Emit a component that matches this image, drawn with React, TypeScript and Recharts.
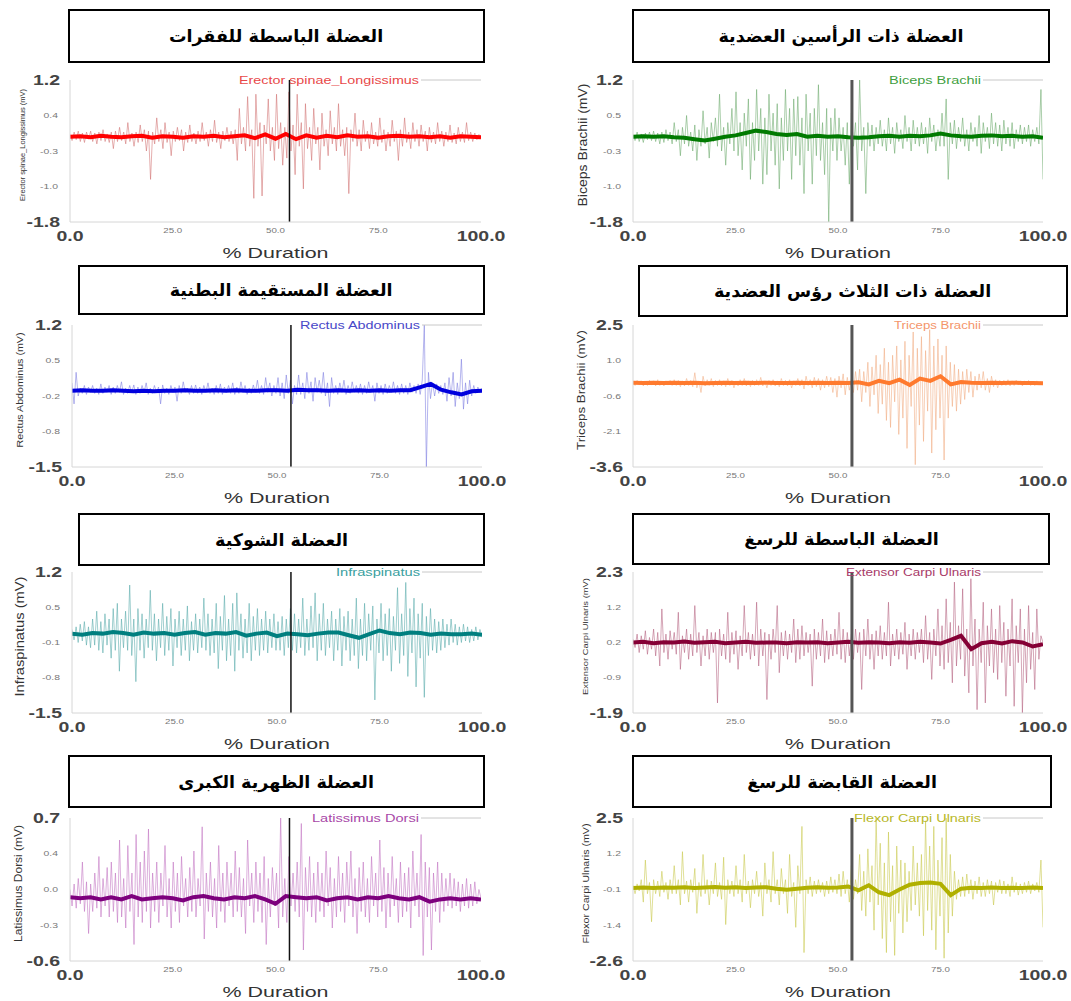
import React from 'react';
import { LineChart, Line, XAxis, YAxis, ReferenceLine, Legend } from 'recharts';

const FONT = "'Liberation Sans', Arial, sans-serif";
const AR_FONT = "'DejaVu Sans', sans-serif";

const xTicks = [0, 25, 50, 75, 100];
const xTickLabels = ['0.0', '25.0', '50.0', '75.0', '100.0'];
const markerX = 53.4;

const titles = [
  'العضلة الباسطة للفقرات',
  'العضلة ذات الرأسين العضدية',
  'العضلة المستقيمة البطنية',
  'العضلة ذات الثلاث رؤس العضدية',
  'العضلة الشوكية',
  'العضلة الباسطة للرسغ',
  'العضلة الظهرية الكبرى',
  'العضلة القابضة للرسغ',
];

const seriesNames = [
  'Erector spinae_Longissimus',
  'Biceps Brachii',
  'Rectus Abdominus',
  'Triceps Brachii',
  'Infraspinatus',
  'Extensor Carpi Ulnaris',
  'Latissimus Dorsi',
  'Flexor Carpi Ulnaris',
];

const yAxisLabels = [
  'Erector spinae_Longissimus (mV)',
  'Biceps Brachii (mV)',
  'Rectus Abdominus (mV)',
  'Triceps Brachii (mV)',
  'Infraspinatus (mV)',
  'Extensor Carpi Ulnaris (mV)',
  'Latissimus Dorsi (mV)',
  'Flexor Carpi Ulnaris (mV)',
];

const yTicks = [
  [-1.8, -1.05, -0.3, 0.45, 1.2],
  [-1.8, -1.05, -0.3, 0.45, 1.2],
  [-1.5, -0.825, -0.15, 0.525, 1.2],
  [-3.6, -2.075, -0.55, 0.975, 2.5],
  [-1.5, -0.825, -0.15, 0.525, 1.2],
  [-1.9, -0.85, 0.2, 1.25, 2.3],
  [-0.6, -0.275, 0.05, 0.375, 0.7],
  [-2.6, -1.325, -0.05, 1.225, 2.5],
];

const yTickLabels = [
  ['-1.8', '-1.0', '-0.3', '0.4', '1.2'],
  ['-1.8', '-1.0', '-0.3', '0.5', '1.2'],
  ['-1.5', '-0.8', '-0.2', '0.5', '1.2'],
  ['-3.6', '-2.1', '-0.6', '1.0', '2.5'],
  ['-1.5', '-0.8', '-0.1', '0.5', '1.2'],
  ['-1.9', '-0.9', '0.2', '1.2', '2.3'],
  ['-0.6', '-0.3', '0.0', '0.4', '0.7'],
  ['-2.6', '-1.4', '-0.1', '1.2', '2.5'],
];

const rawColors = ['#d07070', '#6aa86a', '#7c7ce0', '#f0aa80', '#55a8a8', '#b4607e', '#c070c0', '#c8c848'];
const smoothColors = ['#ff0000', '#007a00', '#0000dd', '#ff7a2e', '#007f7f', '#850035', '#7d007d', '#b0b000'];
const legendColors = ['#e84848', '#3fa03f', '#4848c8', '#f4956a', '#3aa0a0', '#a83a68', '#a848a8', '#b8b828'];

// raw EMG traces (200 samples evenly spaced over 0..100 % duration)
const erectorRaw = [
  0.05, -0.08, 0.1, -0.06, 0.12, -0.1, 0.08, -0.12, 0.1, -0.05,
  0.12, -0.1, 0.08, -0.15, 0.1, -0.08, 0.15, -0.1, 0.06, -0.12,
  0.1, -0.25, 0.12, -0.1, 0.2, -0.08, 0.1, -0.15, 0.3, -0.1,
  0.08, -0.2, 0.1, -0.12, 0.25, -0.1, 0.15, -0.3, 0.12, -0.9,
  0.1, -0.15, 0.4, -0.1, 0.15, -0.25, 0.3, -0.12, 0.1, -0.4,
  0.12, -0.1, 0.2, -0.08, 0.15, -0.3, 0.1, -0.12, 0.25, -0.1,
  0.08, -0.15, 0.12, -0.1, 0.3, -0.08, 0.1, -0.2, 0.15, -0.1,
  0.35, -0.12, 0.1, -0.25, 0.12, -0.08, 0.2, -0.1, 0.12, -0.15,
  0.15, -0.5, 0.6, -0.15, 0.2, -0.3, 0.85, -0.2, 0.15, -1.3,
  0.9, -0.2, 0.3, -1.25, 0.25, -0.15, 0.8, -0.3, 0.2, -0.5,
  0.9, -0.25, 0.3, -0.6, 0.2, -0.45, 0.95, -0.3, 0.25, -0.8,
  0.9, -0.2, 0.3, -1.1, 0.7, -0.25, 0.2, -0.5, 0.6, -0.15,
  0.2, -0.7, 0.5, -0.2, 0.15, -0.4, 0.55, -0.15, 0.2, -0.3,
  0.7, -0.2, 0.15, -0.4, 0.2, -1.2, 0.15, -0.1, 0.5, -0.2,
  0.15, -0.3, 0.35, -0.1, 0.12, -0.25, 0.3, -0.15, 0.1, -0.2,
  0.4, -0.12, 0.15, -0.3, 0.1, -0.2, 0.35, -0.1, 0.12, -0.5,
  0.15, -0.2, 0.4, -0.12, 0.1, -0.25, 0.3, -0.1, 0.15, -0.2,
  0.25, -0.1, 0.12, -0.3, 0.2, -0.12, 0.1, -0.15, 0.3, -0.1,
  0.12, -0.2, 0.1, -0.1, 0.25, -0.12, 0.08, -0.15, 0.2, -0.1,
  0.1, -0.12, 0.3, -0.08, 0.1, -0.1, 0.08, -0.06, 0.05, 0.0,
];
const bicepsRaw = [
  0.05, -0.08, 0.1, -0.1, 0.06, -0.12, 0.08, -0.06, 0.1, -0.08,
  0.12, -0.1, 0.08, -0.15, 0.1, -0.12, 0.15, -0.08, 0.1, -0.15,
  0.3, -0.1, 0.15, -0.4, 0.2, -0.15, 0.45, -0.2, 0.1, -0.3,
  0.25, -0.5, 0.15, -0.2, 0.55, -0.15, 0.2, -0.45, 0.3, -0.1,
  0.4, -0.2, 0.9, -0.3, 0.2, -0.6, 0.3, -0.15, 0.6, -0.3,
  0.95, -0.4, 0.3, -0.7, 0.5, -0.2, 0.8, -0.9, 0.3, -0.5,
  1.0, -0.3, 0.6, -1.0, 0.4, -0.8, 0.9, -0.3, 0.5, -0.6,
  0.7, -1.1, 0.4, -0.5, 1.0, -0.3, 0.6, -0.9, 0.8, -0.4,
  0.85, -0.6, 0.4, -1.2, 0.9, -0.3, 0.5, -1.0, 0.6, -0.4,
  1.1, -0.5, 0.3, -0.8, 0.6, -1.8, 0.4, -0.3, 0.6, -0.5,
  0.4, -0.3, 0.2, -0.6, 0.3, -1.0, 0.5, -0.2, 0.3, -0.7,
  1.2, -0.3, 0.2, -1.2, 0.3, -0.2, 0.25, -0.3, 0.2, -0.15,
  0.35, -0.2, 0.15, -0.3, 0.4, -0.15, 0.2, -0.35, 0.3, -0.1,
  0.15, -0.25, 0.45, -0.1, 0.2, -0.3, 0.35, -0.15, 0.2, -0.2,
  0.3, -0.15, 0.2, -0.35, 0.4, -0.1, 0.25, -0.3, 0.15, -0.2,
  0.5, -0.2, 0.8, -0.9, 0.3, -0.15, 0.35, -0.25, 0.2, -0.1,
  0.4, -0.2, 0.15, -0.3, 0.3, -0.1, 0.2, -0.2, 0.45, -0.35,
  0.3, -0.1, 0.2, -0.25, 0.5, -0.15, 0.3, -0.2, 0.25, -0.3,
  0.35, -0.15, 0.2, -0.2, 0.3, -0.25, 0.15, -0.1, 0.25, -0.15,
  0.2, -0.1, 0.25, -0.2, 0.15, -0.1, 0.2, -0.15, 1.0, -0.9,
];
const rectusRaw = [
  0.1, -0.3, 0.3, -0.15, 0.0, -0.1, 0.05, -0.12, 0.02, -0.08,
  0.05, -0.1, 0.0, -0.12, 0.08, -0.1, 0.02, -0.08, 0.05, -0.12,
  0.02, -0.1, 0.05, -0.08, 0.12, -0.12, 0.0, -0.1, 0.05, -0.08,
  0.06, -0.12, 0.02, -0.1, 0.05, -0.08, 0.1, -0.12, 0.0, -0.1,
  0.05, -0.08, 0.02, -0.3, 0.06, -0.1, 0.0, -0.12, 0.05, -0.08,
  0.02, -0.25, 0.05, -0.1, 0.12, -0.08, 0.0, -0.12, 0.05, -0.1,
  0.06, -0.1, 0.02, -0.12, 0.05, -0.08, 0.1, -0.1, 0.0, -0.12,
  0.05, -0.1, 0.08, -0.12, 0.02, -0.08, 0.05, -0.1, 0.1, -0.12,
  0.02, -0.1, 0.12, -0.08, 0.05, -0.12, 0.0, -0.1, 0.06, -0.08,
  0.15, -0.1, 0.05, -0.12, 0.2, -0.08, 0.1, -0.15, 0.05, -0.1,
  0.2, -0.15, 0.1, -0.2, 0.25, -0.1, 0.15, -0.3, 0.05, -0.12,
  0.25, -0.12, 0.1, -0.2, 0.3, -0.1, 0.12, -0.25, 0.2, -0.08,
  0.15, -0.1, 0.3, -0.15, 0.1, -0.35, 0.2, -0.1, 0.05, -0.12,
  0.1, -0.08, 0.15, -0.12, 0.05, -0.1, 0.12, -0.08, 0.05, -0.1,
  0.08, -0.12, 0.05, -0.1, 0.12, -0.08, 0.05, -0.25, 0.1, -0.1,
  0.05, -0.12, 0.08, -0.1, 0.05, -0.08, 0.12, -0.1, 0.05, -0.12,
  0.08, -0.1, 0.05, -0.12, 0.1, -0.08, 0.05, -0.1, 0.08, -0.12,
  0.15, 1.2, -1.5, 0.3, -0.2, 0.1, -0.15, 0.08, -0.1, 0.05,
  -0.12, 0.1, -0.25, 0.2, -0.15, 0.3, -0.35, 0.1, -0.2, 0.55,
  -0.4, 0.1, -0.3, 0.15, -0.15, 0.05, -0.1, 0.02, -0.08, 0.0,
];
const tricepsRaw = [
  0.1, -0.1, 0.12, -0.08, 0.1, -0.12, 0.08, -0.1, 0.12, -0.08,
  0.1, -0.12, 0.15, -0.1, 0.08, -0.12, 0.1, -0.08, 0.12, -0.1,
  0.15, -0.1, 0.12, -0.15, 0.1, -0.12, 0.2, -0.1, 0.12, -0.15,
  0.45, -0.2, 0.1, -0.4, 0.3, -0.12, 0.15, -0.1, 0.2, -0.15,
  0.12, -0.1, 0.15, -0.12, 0.1, -0.15, 0.2, -0.1, 0.12, -0.2,
  0.1, -0.12, 0.15, -0.1, 0.2, -0.12, 0.1, -0.15, 0.12, -0.1,
  0.15, -0.1, 0.25, -0.12, 0.1, -0.2, 0.12, -0.1, 0.15, -0.12,
  0.1, -0.15, 0.2, -0.1, 0.12, -0.12, 0.15, -0.2, 0.1, -0.1,
  0.2, -0.12, 0.15, -0.25, 0.3, -0.1, 0.15, -0.2, 0.25, -0.15,
  0.2, -0.3, 0.15, -0.2, 0.3, -0.15, 0.25, -0.4, 0.2, -0.6,
  0.3, -0.2, 0.4, -0.5, 0.25, -0.3, 0.2, -0.4, 0.5, -0.3,
  0.6, -0.8, 0.5, -0.4, 0.9, -1.0, 0.7, -0.5, 1.2, -1.3,
  0.8, -0.9, 1.5, -1.6, 0.9, -1.9, 1.2, -0.8, 1.6, -2.2,
  1.0, -1.5, 1.8, -2.8, 1.2, -1.0, 2.2, -3.5, 1.5, -1.8,
  2.0, -2.5, 1.4, -1.2, 2.3, -3.0, 1.6, -2.0, 1.9, -1.5,
  1.2, -3.3, 1.6, -1.5, 0.9, -1.0, 0.8, -1.2, 0.6, -0.9,
  0.5, -0.7, 0.6, -0.4, 0.5, -0.6, 0.3, -0.3, 0.4, -0.2,
  0.5, -0.3, 0.2, -0.4, 0.3, -0.15, 0.15, -0.2, 0.12, -0.1,
  0.12, -0.1, 0.15, -0.12, 0.1, -0.1, 0.12, -0.08, 0.1, -0.12,
  0.1, -0.08, 0.12, -0.1, 0.08, -0.1, 0.1, -0.08, 0.06, -0.05,
];
const infraRaw = [
  0.1, -0.1, 0.15, -0.15, 0.2, -0.12, 0.25, -0.2, 0.15, -0.25,
  0.3, -0.2, 0.45, -0.3, 0.25, -0.35, 0.4, -0.2, 0.3, -0.45,
  0.5, -0.3, 0.6, -0.7, 0.3, -0.25, 0.45, -0.3, 0.95, -0.4,
  0.3, -0.9, 0.5, -0.3, 0.4, -0.45, 0.3, -0.25, 0.85, -0.3,
  0.4, -0.5, 0.3, -0.25, 0.6, -0.4, 0.35, -0.3, 0.5, -0.6,
  0.3, -0.25, 0.45, -0.4, 0.3, -0.3, 0.55, -0.5, 0.25, -0.3,
  0.4, -0.35, 0.3, -0.25, 0.7, -0.3, 0.4, -0.4, 0.3, -0.35,
  0.6, -0.65, 0.35, -0.3, 0.75, -0.5, 0.3, -0.4, 0.6, -0.7,
  0.8, -0.3, 0.4, -0.45, 0.3, -0.35, 0.6, -0.5, 0.35, -0.3,
  0.5, -0.4, 0.3, -0.3, 0.45, -0.35, 0.3, -0.25, 0.4, -0.3,
  0.25, -0.3, 0.35, -0.4, 0.3, -0.25, 0.5, -0.3, 0.4, -0.35,
  0.3, -0.25, 0.7, -0.4, 0.3, -0.3, 0.55, -0.25, 0.8, -0.5,
  0.4, -0.3, 0.6, -0.4, 0.3, -0.25, 0.45, -0.5, 0.3, -0.3,
  0.5, -0.6, 0.35, -0.3, 0.45, -0.5, 0.3, -0.4, 0.7, -0.65,
  0.3, -0.4, 0.6, -0.5, 0.4, -0.3, 0.55, -1.25, 0.3, -0.35,
  0.6, -0.5, 0.4, -0.4, 0.5, -0.7, 0.35, -0.3, 0.9, -0.55,
  0.4, -0.4, 1.0, -0.8, 0.5, -0.35, 0.7, -1.0, 0.4, -0.45,
  0.6, -1.2, 0.35, -0.4, 0.5, -0.3, 0.3, -0.35, 0.25, -0.3,
  0.3, -0.25, 0.2, -0.2, 0.3, -0.15, 0.2, -0.2, 0.15, -0.15,
  0.2, -0.12, 0.15, -0.15, 0.1, -0.12, 0.15, -0.1, 0.1, -0.05,
];
const extensorRaw = [
  0.3, 0.05, 0.45, -0.1, 0.4, 0.0, 0.55, -0.15, 0.35, 0.0,
  0.6, -0.2, 0.5, -0.5, 1.2, -0.1, 0.45, -0.3, 0.55, 0.0,
  0.5, -0.15, 1.1, -0.6, 0.4, -0.1, 0.6, -0.3, 0.45, -0.2,
  1.3, -0.1, 0.5, -0.5, 0.4, -0.2, 0.6, -0.3, 0.5, -0.1,
  0.5, -1.6, 0.6, -0.2, 0.45, -0.3, 1.1, -0.4, 0.5, -0.15,
  0.55, -0.6, 0.4, -0.2, 1.3, -0.1, 0.5, -0.3, 0.45, -0.2,
  1.4, -0.5, 0.6, -0.2, 0.5, -1.5, 0.45, -0.3, 0.6, -0.1,
  1.3, -0.7, 0.5, -0.2, 0.55, -0.3, 0.45, -0.1, 0.9, -0.4,
  0.6, -0.3, 0.7, -0.2, 0.5, -0.1, 0.45, -1.1, 0.6, -0.3,
  0.5, -0.2, 0.9, -0.4, 0.55, -0.3, 0.45, -0.2, 0.6, -0.15,
  1.1, -0.3, 0.6, -0.4, 0.5, -0.2, 0.45, -0.3, 0.6, -0.1,
  0.5, -1.2, 0.6, -0.2, 0.9, -0.3, 0.45, -0.6, 0.55, -0.2,
  0.7, -0.3, 0.5, -0.2, 1.4, -0.5, 0.45, -0.2, 0.6, -0.3,
  0.5, -0.15, 0.8, -0.6, 0.45, -0.2, 0.6, -0.3, 0.5, -0.1,
  0.6, -0.4, 1.0, -0.3, 0.5, -0.9, 0.6, -0.2, 1.2, -0.5,
  0.7, -0.6, 1.5, -0.4, 0.8, -1.0, 2.0, -0.5, 0.7, -0.3,
  1.8, -0.8, 0.6, -1.3, 2.1, -0.5, 0.9, -1.8, 0.6, -0.4,
  1.4, -1.6, 0.7, -0.5, 1.2, -0.7, 0.6, -0.9, 1.3, -0.4,
  0.8, -1.4, 0.6, -0.5, 1.5, -1.7, 0.7, -0.4, 1.2, -1.9,
  0.6, -1.0, 1.3, -0.6, 0.5, -1.2, 1.2, -0.3, 0.4, 0.2,
];
const latissimusRaw = [
  0.05, -0.1, 0.1, -0.12, 0.15, -0.08, 0.3, -0.15, 0.12, -0.35,
  0.1, -0.15, 0.2, -0.12, 0.35, -0.2, 0.15, -0.1, 0.25, -0.2,
  0.3, -0.15, 0.2, -0.25, 0.5, -0.2, 0.15, -0.3, 0.45, -0.15,
  0.2, -0.45, 0.55, -0.2, 0.3, -0.25, 0.4, -0.15, 0.6, -0.3,
  0.2, -0.15, 0.3, -0.25, 0.2, -0.1, 0.45, -0.2, 0.15, -0.3,
  0.3, -0.15, 0.2, -0.25, 0.35, -0.1, 0.15, -0.2, 0.25, -0.15,
  0.4, -0.2, 0.15, -0.1, 0.62, -0.4, 0.2, -0.15, 0.3, -0.2,
  0.15, -0.3, 0.45, -0.15, 0.2, -0.25, 0.3, -0.1, 0.2, -0.2,
  0.4, -0.15, 0.25, -0.2, 0.15, -0.35, 0.5, -0.1, 0.2, -0.25,
  0.3, -0.15, 0.2, -0.25, 0.35, -0.45, 0.15, -0.2, 0.25, -0.1,
  0.2, -0.3, 0.7, -0.2, 0.15, -0.25, 0.35, -0.1, 0.2, -0.15,
  0.3, -0.2, 0.65, -0.5, 0.25, -0.15, 0.35, -0.2, 0.2, -0.25,
  0.3, -0.15, 0.2, -0.2, 0.4, -0.1, 0.25, -0.3, 0.15, -0.2,
  0.35, -0.15, 0.2, -0.25, 0.3, -0.1, 0.4, -0.2, 0.15, -0.35,
  0.25, -0.15, 0.3, -0.2, 0.15, -0.25, 0.35, -0.1, 0.2, -0.2,
  0.5, -0.15, 0.25, -0.3, 0.2, -0.2, 0.35, -0.1, 0.15, -0.25,
  0.3, -0.2, 0.2, -0.15, 0.25, -0.3, 0.4, -0.1, 0.2, -0.2,
  0.55, -0.55, 0.3, -0.2, 0.25, -0.5, 0.2, -0.15, 0.3, -0.25,
  0.2, -0.15, 0.15, -0.1, 0.2, -0.12, 0.15, -0.1, 0.12, -0.15,
  0.1, -0.1, 0.15, -0.12, 0.1, -0.1, 0.12, -0.08, 0.05, -0.03,
];
const flexorRaw = [
  0.1, -0.2, 0.15, -0.1, 0.3, -0.5, 1.0, -0.2, 0.2, -1.2,
  0.3, -0.2, 0.25, -0.3, 0.6, -0.15, 0.2, -0.4, 0.3, -0.2,
  0.8, -0.2, 0.3, -0.6, 1.3, -0.2, 0.25, -0.5, 0.3, -0.15,
  0.7, -0.9, 0.2, -0.3, 1.2, -0.2, 0.3, -0.6, 0.25, -0.2,
  0.9, -0.3, 0.2, -0.4, 1.1, -1.3, 0.3, -0.2, 0.25, -0.3,
  0.8, -0.2, 0.3, -0.5, 1.2, -0.2, 0.25, -0.7, 0.3, -0.2,
  0.6, -0.3, 0.2, -1.0, 0.9, -0.2, 0.3, -0.5, 1.3, -0.2,
  0.3, -0.6, 0.7, -0.2, 0.3, -0.9, 1.2, -0.3, 0.2, -1.4,
  0.8, -0.2, 2.2, -2.3, 0.3, -0.2, 0.4, -0.3, 0.25, -0.2,
  0.3, -0.15, 0.2, -0.3, 0.25, -0.2, 0.4, -0.15, 0.3, -0.2,
  0.5, -0.3, 0.6, -0.2, 0.3, -0.5, 0.8, -0.4, 0.3, -0.2,
  1.2, -0.8, 0.6, -1.0, 1.4, -0.5, 0.8, -1.5, 2.5, -0.6,
  1.6, -1.8, 0.9, -2.3, 2.0, -1.2, 0.8, -2.4, 1.5, -0.9,
  1.0, -1.6, 0.9, -1.2, 0.6, -0.8, 1.5, -0.6, 0.9, -1.0,
  1.2, -1.7, 2.4, -0.8, 1.5, -1.5, 2.2, -2.2, 1.0, -1.0,
  1.8, -2.5, 2.5, -1.6, 1.2, -1.0, 0.6, -0.4, 0.3, -0.3,
  0.4, -0.3, 0.5, -0.2, 0.3, -0.4, 0.25, -0.2, 0.4, -0.3,
  0.2, -0.3, 0.3, -0.2, 0.25, -0.6, 0.2, -0.15, 0.3, -0.2,
  0.25, -0.2, 0.15, -0.3, 0.4, -0.15, 0.2, -0.25, 0.15, -0.2,
  0.2, -0.15, 0.25, -0.2, 0.15, -0.1, 0.2, -0.15, 1.0, -1.4,
];

// smoothed (dark) traces, evenly spaced every 2.5 %
const erectorSmooth = [0, 0.01, -0.01, 0.02, 0, -0.01, 0.01, 0.02, -0.02, 0.01, 0, -0.02, 0.01, 0, 0.02, -0.01, 0.01, 0.03, -0.03, 0.05, -0.04, 0.06, -0.05, 0.03, -0.02, 0.02, -0.01, 0.03, 0, 0.01, -0.02, 0.01, 0.02, 0, 0.01, -0.01, 0.01, -0.02, 0.01, 0, -0.01];
const bicepsSmooth = [0, 0.01, 0, 0.01, -0.01, -0.02, -0.05, -0.08, -0.04, 0.0, 0.03, 0.08, 0.13, 0.1, 0.06, 0.04, 0.06, 0.0, 0.02, 0.0, 0.01, -0.01, -0.02, -0.01, 0.01, 0.02, 0.0, 0.02, 0.01, 0.03, 0.07, 0.03, 0.01, 0.0, 0.02, 0.03, 0.01, 0.02, 0.0, 0.01, -0.02];
const rectusSmooth = [-0.05, -0.04, -0.05, -0.05, -0.04, -0.05, -0.06, -0.05, -0.06, -0.05, -0.05, -0.04, -0.05, -0.05, -0.04, -0.05, -0.04, -0.05, -0.05, -0.04, -0.04, -0.05, -0.03, -0.04, -0.04, -0.05, -0.04, -0.05, -0.04, -0.05, -0.04, -0.05, -0.04, -0.04, 0.02, 0.08, -0.03, -0.08, -0.12, -0.06, -0.05];
const tricepsSmooth = [0.02, 0.01, 0.02, 0.01, 0.02, 0.01, 0.02, 0.0, 0.01, 0.02, 0.01, 0.02, 0.01, 0.02, 0.01, 0.01, 0.02, 0.01, 0.02, 0.01, 0.02, 0.01, 0.04, -0.05, 0.1, 0.0, 0.15, -0.08, 0.2, 0.1, 0.3, -0.05, 0.05, 0.02, 0.01, 0.02, 0.01, 0.02, 0.01, 0.01, 0.0];
const infraSmooth = [0.02, 0.0, 0.03, 0.02, 0.05, 0.03, 0.0, 0.04, 0.02, 0.03, 0.0, 0.03, 0.05, 0.0, 0.03, 0.02, 0.05, -0.02, 0.02, 0.04, -0.03, 0.02, 0.01, -0.01, 0.02, 0.04, 0.04, -0.01, -0.06, 0.01, 0.08, 0.03, 0.01, 0.04, 0.03, 0.0, 0.02, 0.01, 0.01, 0.02, 0.0];
const extensorSmooth = [0.2, 0.22, 0.18, 0.21, 0.2, 0.23, 0.19, 0.21, 0.22, 0.18, 0.2, 0.22, 0.19, 0.2, 0.2, 0.18, 0.21, 0.2, 0.21, 0.18, 0.2, 0.22, 0.19, 0.21, 0.2, 0.18, 0.21, 0.19, 0.22, 0.2, 0.17, 0.28, 0.4, 0.0, 0.18, 0.22, 0.17, 0.24, 0.2, 0.08, 0.15];
const latissimusSmooth = [-0.02, -0.03, -0.02, -0.04, -0.02, -0.04, -0.01, -0.04, -0.03, -0.02, -0.03, -0.05, -0.02, -0.01, -0.03, -0.04, -0.02, -0.03, -0.01, -0.04, -0.08, -0.01, -0.02, -0.03, -0.02, -0.05, -0.03, -0.02, -0.04, -0.02, -0.03, -0.01, -0.03, -0.04, -0.02, -0.06, -0.04, -0.03, -0.04, -0.03, -0.04];
const flexorSmooth = [0, 0.02, 0, 0.02, 0.01, 0.03, 0, 0.02, 0.04, 0.01, 0.03, 0, 0.02, 0.03, -0.02, -0.06, -0.02, 0.01, 0.03, 0.01, 0.02, 0.06, -0.08, 0.1, -0.15, -0.25, -0.05, 0.12, 0.18, 0.2, 0.15, -0.25, -0.02, 0.01, 0, 0.02, 0, 0.01, 0, 0.02, 0];

const rawSeries = [erectorRaw, bicepsRaw, rectusRaw, tricepsRaw, infraRaw, extensorRaw, latissimusRaw, flexorRaw];
const smoothSeries = [erectorSmooth, bicepsSmooth, rectusSmooth, tricepsSmooth, infraSmooth, extensorSmooth, latissimusSmooth, flexorSmooth];

// layout (pixels)
const layouts = [
  { plotLeft: 70, plotRight: 481, plotTop: 80, plotBottom: 222, box: [68, 485, 9, 63], yLabX: 22, yLabFs: 7, yLabLen: 112, legLen: 180, refW: 1.5, refC: '#111' },
  { plotLeft: 633, plotRight: 1043, plotTop: 80, plotBottom: 222, box: [632, 1050, 9, 63], yLabX: 20, yLabFs: 12, yLabLen: 123, legLen: 92, refW: 3, refC: '#555' },
  { plotLeft: 72, plotRight: 482, plotTop: 325, plotBottom: 467, box: [78, 485, 265, 315], yLabX: 18, yLabFs: 9, yLabLen: 115, legLen: 120, refW: 1.5, refC: '#111' },
  { plotLeft: 633, plotRight: 1043, plotTop: 325, plotBottom: 467, box: [638, 1068, 265, 317], yLabX: 18, yLabFs: 11, yLabLen: 120, legLen: 87, refW: 3, refC: '#555' },
  { plotLeft: 72, plotRight: 482, plotTop: 572, plotBottom: 713, box: [78, 485, 513, 566], yLabX: 17, yLabFs: 13, yLabLen: 120, legLen: 84, refW: 1.5, refC: '#111' },
  { plotLeft: 633, plotRight: 1043, plotTop: 572, plotBottom: 713, box: [632, 1050, 513, 565], yLabX: 22, yLabFs: 7.5, yLabLen: 117, legLen: 135, refW: 3, refC: '#555' },
  { plotLeft: 70, plotRight: 481, plotTop: 818, plotBottom: 961, box: [68, 485, 755, 808], yLabX: 18, yLabFs: 11, yLabLen: 117, legLen: 107, refW: 1.5, refC: '#111' },
  { plotLeft: 633, plotRight: 1043, plotTop: 818, plotBottom: 961, box: [632, 1052, 755, 808], yLabX: 23, yLabFs: 8.5, yLabLen: 120, legLen: 127, refW: 3, refC: '#555' },
];

const CHART_W = 540;
const TOP_PAD = 20;
const LEFT_PAD = 70;

function Panel({ idx }: { idx: number }) {
  const L = layouts[idx];
  const plotW = L.plotRight - L.plotLeft;
  const plotH = L.plotBottom - L.plotTop;
  const height = TOP_PAD + plotH + 45;
  const bottomY = TOP_PAD + plotH;
  const raw = rawSeries[idx];
  const smooth = smoothSeries[idx];
  const rawData = raw.map((v, i) => ({ x: (i * 100) / (raw.length - 1), y: v }));
  const smoothData = smooth.map((v, i) => ({ x: (i * 100) / (smooth.length - 1), y: v }));
  const ticks = yTicks[idx];
  const tickLabels = yTickLabels[idx];

  const XTick = (props: any) => {
    const { x, payload } = props;
    const k = xTicks.indexOf(payload.value);
    const big = k === 0 || k === xTicks.length - 1;
    const y = big ? bottomY + 14 : bottomY + 8;
    return (
      <text
        transform={`translate(${x} ${y}) scale(1.3 1)`}
        textAnchor="middle"
        dominantBaseline="central"
        fontSize={big ? 15 : 7.5}
        fontWeight={big ? 'bold' : 'normal'}
        fill={big ? '#444' : '#777'}
        fontFamily={FONT}
      >
        {xTickLabels[k]}
      </text>
    );
  };

  const YTick = (props: any) => {
    const { y, payload } = props;
    let k = 0;
    let best = Infinity;
    ticks.forEach((t, i) => {
      const d = Math.abs(t - payload.value);
      if (d < best) { best = d; k = i; }
    });
    const big = k === 0 || k === ticks.length - 1;
    const x = big ? LEFT_PAD - 10 : LEFT_PAD - 12;
    return (
      <text
        transform={`translate(${x} ${y}) scale(1.3 1)`}
        textAnchor="end"
        dominantBaseline="central"
        fontSize={big ? 15 : 8}
        fontWeight={big ? 'bold' : 'normal'}
        fill={big ? '#444' : '#777'}
        fontFamily={FONT}
      >
        {tickLabels[k]}
      </text>
    );
  };

  const yLabelContent = () => {
    const cx = L.yLabX;
    const cy = TOP_PAD + plotH / 2 - 6;
    return (
      <text
        x={cx}
        y={cy}
        transform={`rotate(-90 ${cx} ${cy})`}
        textAnchor="middle"
        dominantBaseline="central"
        fontSize={L.yLabFs}
        fill="#333"
        fontFamily={FONT}
        textLength={L.yLabLen}
        lengthAdjust="spacingAndGlyphs"
      >
        {yAxisLabels[idx]}
      </text>
    );
  };

  const xLabelContent = () => {
    const cx = LEFT_PAD + plotW / 2;
    const cy = bottomY + 30;
    return (
      <text
        x={cx}
        y={cy}
        textAnchor="middle"
        dominantBaseline="central"
        fontSize={15}
        fill="#333"
        fontFamily={FONT}
        textLength={106}
        lengthAdjust="spacingAndGlyphs"
      >
        % Duration
      </text>
    );
  };

  const legendContent = (props: any) => {
    const items = (props.payload || []).filter((p: any) => p.type !== 'none');
    const name = items.length ? items[0].value : seriesNames[idx];
    const right = LEFT_PAD + plotW;
    return (
      <div style={{ position: 'relative', width: 0, height: 0 }}>
        <svg width={CHART_W} height={30} style={{ position: 'absolute', left: 0, top: 0, overflow: 'visible' }}>
          <text
            x={right - 62 - L.legLen}
            y={TOP_PAD}
            dominantBaseline="central"
            fontSize={10}
            fill={legendColors[idx]}
            fontFamily={FONT}
            textLength={L.legLen}
            lengthAdjust="spacingAndGlyphs"
          >
            {name}
          </text>
          <line x1={right - 60} x2={right} y1={TOP_PAD} y2={TOP_PAD} stroke="#c8c8c8" strokeWidth={1} />
        </svg>
      </div>
    );
  };

  return (
    <>
      <div
        style={{
          position: 'absolute',
          left: L.box[0],
          top: L.box[2],
          width: L.box[1] - L.box[0],
          height: L.box[3] - L.box[2],
          border: '2px solid #000',
          boxSizing: 'border-box',
          background: '#fff',
          display: 'flex',
          alignItems: 'center',
          justifyContent: 'center',
        }}
      >
        <span
          style={{
            fontFamily: AR_FONT,
            fontWeight: 'bold',
            fontSize: 17,
            direction: 'rtl',
            color: '#000',
            display: 'inline-block',
            transform: 'scaleX(1.03)',
          }}
        >
          {titles[idx]}
        </span>
      </div>
      <div style={{ position: 'absolute', left: L.plotLeft - LEFT_PAD, top: L.plotTop - TOP_PAD }}>
        <LineChart
          width={CHART_W}
          height={height}
          margin={{ top: TOP_PAD, left: 20, right: CHART_W - LEFT_PAD - plotW, bottom: 0 }}
        >
          <XAxis
            type="number"
            dataKey="x"
            domain={[0, 100]}
            ticks={xTicks}
            interval={0}
            height={45}
            stroke="#d6d6d6"
            tickLine={false}
            tick={XTick}
            allowDataOverflow
            label={{ content: xLabelContent }}
          />
          <YAxis
            type="number"
            dataKey="y"
            domain={[ticks[0], ticks[ticks.length - 1]]}
            ticks={ticks}
            interval={0}
            width={50}
            stroke="#d6d6d6"
            tickLine={false}
            tick={YTick}
            allowDataOverflow
            label={{ content: yLabelContent }}
          />
          <Legend verticalAlign="top" content={legendContent} wrapperStyle={{ top: 0, left: 0 }} />
          <Line
            data={rawData}
            dataKey="y"
            name={seriesNames[idx]}
            type="linear"
            stroke={rawColors[idx]}
            strokeWidth={0.7}
            strokeOpacity={0.8}
            dot={false}
            activeDot={false}
            isAnimationActive={false}
          />
          <Line
            data={smoothData}
            dataKey="y"
            name={seriesNames[idx] + ' (smoothed)'}
            legendType="none"
            type="linear"
            stroke={smoothColors[idx]}
            strokeWidth={4}
            dot={false}
            activeDot={false}
            isAnimationActive={false}
          />
          <ReferenceLine x={markerX} stroke={L.refC} strokeWidth={L.refW} />
        </LineChart>
      </div>
    </>
  );
}

export default function App() {
  return (
    <div style={{ position: 'absolute', left: 0, top: 0, width: 1071, height: 1001, background: '#fff', overflow: 'hidden' }}>
      {layouts.map((_, i) => (
        <Panel key={i} idx={i} />
      ))}
    </div>
  );
}
